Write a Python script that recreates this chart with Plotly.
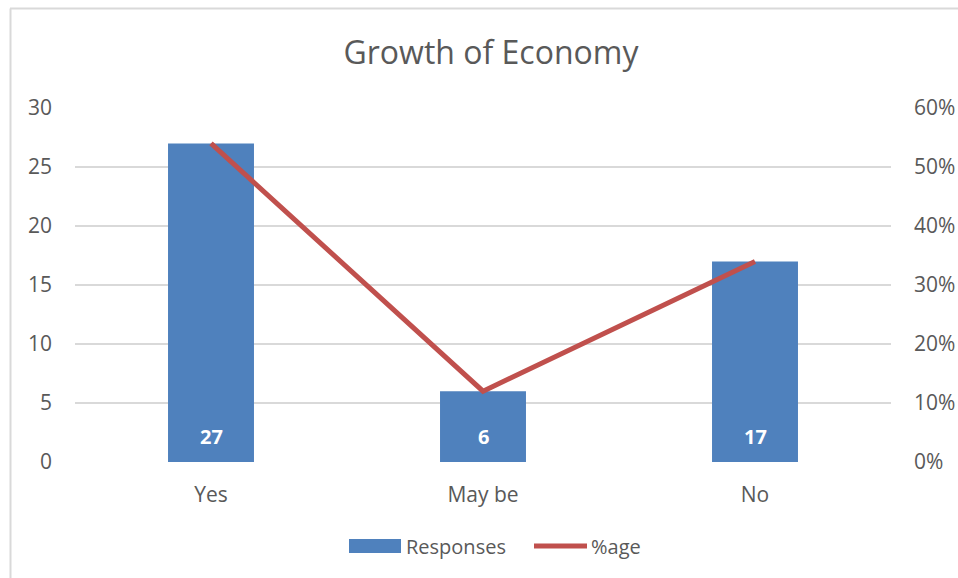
import plotly.graph_objects as go

categories = ["Yes", "May be", "No"]
responses = [27, 6, 17]
percentage = [0.54, 0.12, 0.34]
left_ticks = [0, 5, 10, 15, 20, 25, 30]
right_ticks = [0, 0.1, 0.2, 0.3, 0.4, 0.5, 0.6]
right_labels = ["0%", "10%", "20%", "30%", "40%", "50%", "60%"]

FONT = "Open Sans"
GREY = "#595959"
BLUE = "#4F81BD"
RED = "#C0504D"

fig = go.Figure()
fig.add_trace(go.Bar(
    x=categories, y=responses, name="Responses",
    marker=dict(color=BLUE, line=dict(width=0)),
    width=0.316, yaxis="y", showlegend=False,
))
fig.add_trace(go.Scatter(
    x=categories, y=percentage, name="%age", mode="lines",
    line=dict(color=RED, width=5), yaxis="y2", showlegend=False,
))

L, R, T, B = 75, 67, 108, 116
W, H = 958, 578
pw, ph = W - L - R, H - T - B

def px(x):
    return (x - L) / pw

def py(y):
    return (H - B - y) / ph

annotations = []
for c, v in zip(categories, responses):
    annotations.append(dict(
        x=c, y=0, xref="x", yref="y", text=f"<b>{v}</b>", showarrow=False,
        yanchor="middle", yshift=26,
        font=dict(family=FONT, size=20, color="white")))

# legend (manual, to match wide swatch)
annotations.append(dict(x=px(404), y=py(546), xref="paper", yref="paper",
                        text="Responses", showarrow=False, xanchor="left",
                        yanchor="middle",
                        font=dict(family=FONT, size=20, color=GREY)))
annotations.append(dict(x=px(589), y=py(546), xref="paper", yref="paper",
                        text="%age", showarrow=False, xanchor="left",
                        yanchor="middle",
                        font=dict(family=FONT, size=20, color=GREY)))

shapes = [
    dict(type="line", xref="paper", yref="paper",
         x0=px(10.5), x1=px(10.5), y0=py(8.5), y1=py(600),
         line=dict(color="#D9D9D9", width=2)),
    dict(type="line", xref="paper", yref="paper",
         x0=px(10), x1=px(1000), y0=py(8.5), y1=py(8.5),
         line=dict(color="#D9D9D9", width=2)),
    dict(type="rect", xref="paper", yref="paper",
         x0=px(349), x1=px(401), y0=py(539), y1=py(553),
         fillcolor=BLUE, line=dict(width=0)),
    dict(type="line", xref="paper", yref="paper",
         x0=px(534), x1=px(587), y0=py(546), y1=py(546),
         line=dict(color=RED, width=5)),
]

fig.update_layout(
    width=W, height=H,
    margin=dict(l=L, r=R, t=T, b=B, autoexpand=False),
    paper_bgcolor="white", plot_bgcolor="white",
    title=dict(text="Growth of Economy", x=491 / W, xanchor="center",
               y=1 - 53 / H, yanchor="middle",
               font=dict(family=FONT, size=32, color=GREY)),
    font=dict(family=FONT, color=GREY, size=16),
    showlegend=False,
    xaxis=dict(showgrid=False, showline=False, ticks="", automargin=False,
               ticklabelstandoff=18,
               tickfont=dict(size=21, color=GREY, family=FONT)),
    yaxis=dict(range=[0, 30], tickvals=left_ticks, showgrid=True,
               gridcolor="#D9D9D9", gridwidth=2, zeroline=False,
               ticks="", ticklabelstandoff=22, automargin=False,
               tickfont=dict(size=21, color=GREY, family=FONT)),
    yaxis2=dict(range=[0, 0.6], tickvals=right_ticks, ticktext=right_labels,
                overlaying="y", side="right", showgrid=False, zeroline=False,
                ticks="", ticklabelstandoff=22, automargin=False,
                tickfont=dict(size=21, color=GREY, family=FONT)),
    annotations=annotations,
    shapes=shapes,
)

fig.write_html("out.html")
